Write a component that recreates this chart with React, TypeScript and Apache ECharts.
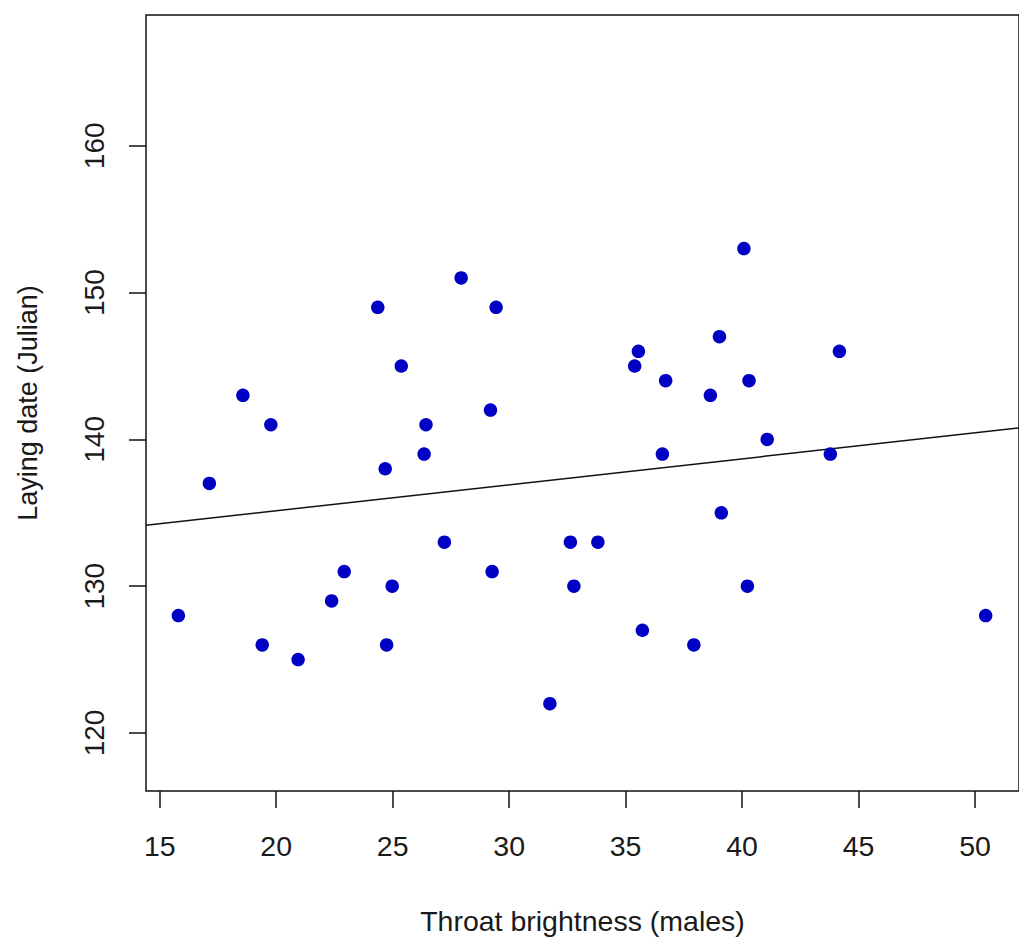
import React, { useEffect, useRef } from "react";
import * as echarts from "echarts";

// Throat brightness (males) vs laying date (Julian)
const throatBrightness = [
  15.8, 17.13, 18.57, 19.4, 19.77, 20.94, 22.38, 22.92, 24.36, 24.68,
  24.74, 24.98, 25.37, 26.35, 26.43, 27.22, 27.94, 29.2, 29.27, 29.44,
  31.75, 32.63, 32.78, 33.81, 35.39, 35.55, 35.72, 36.58, 36.72, 37.93,
  38.64, 39.03, 39.11, 40.08, 40.23, 40.3, 41.08, 43.79, 44.18, 50.46,
];
const layingDate = [
  128, 137, 143, 126, 141, 125, 129, 131, 149, 138,
  126, 130, 145, 139, 141, 133, 151, 142, 131, 149,
  122, 133, 130, 133, 145, 146, 127, 139, 144, 126,
  143, 147, 135, 153, 130, 144, 140, 139, 146, 128,
];

// Fitted line endpoints
const fitX = [14.41, 51.89];
const fitY = [134.15, 140.78];

const xTicks = [15, 20, 25, 30, 35, 40, 45, 50];
const yTicks = [120, 130, 140, 150, 160];

const xTitle = "Throat brightness (males)";
const yTitle = "Laying date (Julian)";

export default function App() {
  const ref = useRef<HTMLDivElement>(null);
  useEffect(() => {
    if (!ref.current) return;
    const chart = echarts.init(ref.current, null, { renderer: "svg" });
    const font = "'Liberation Sans', Arial, sans-serif";
    const textColor = "#1a1a1a";
    chart.setOption({
      animation: false,
      backgroundColor: "#ffffff",
      grid: {
        left: 146,
        top: 15,
        right: -12,
        bottom: 151,
        show: true,
        borderColor: "#111",
        borderWidth: 1.5,
        backgroundColor: "transparent",
      },
      xAxis: {
        type: "value",
        min: 14.41,
        max: 51.89,
        name: xTitle,
        nameLocation: "middle",
        nameGap: 115,
        nameTextStyle: { fontFamily: font, fontSize: 28.5, color: textColor },
        axisLine: { show: false },
        splitLine: { show: false },
        axisTick: {
          show: true,
          customValues: xTicks,
          length: 17,
          lineStyle: { color: "#111", width: 1.5 },
        },
        axisLabel: {
          customValues: xTicks,
          margin: 40,
          fontFamily: font,
          fontSize: 28.5,
          color: textColor,
        },
      },
      yAxis: {
        type: "value",
        min: 116.05,
        max: 168.91,
        name: yTitle,
        nameLocation: "middle",
        nameGap: 105,
        nameRotate: 90,
        nameTextStyle: { fontFamily: font, fontSize: 27, color: textColor },
        axisLine: { show: false },
        splitLine: { show: false },
        axisTick: {
          show: true,
          customValues: yTicks,
          length: 17,
          lineStyle: { color: "#111", width: 1.5 },
        },
        axisLabel: {
          customValues: yTicks,
          rotate: 90,
          margin: 38,
          fontFamily: font,
          fontSize: 28,
          color: textColor,
        },
      },
      series: [
        {
          type: "line",
          data: fitX.map((x, i) => [x, fitY[i]]),
          showSymbol: false,
          symbol: "none",
          clip: true,
          lineStyle: { color: "#111", width: 1.5 },
          silent: true,
          z: 1,
        },
        {
          type: "scatter",
          data: throatBrightness.map((x, i) => [x, layingDate[i]]),
          symbol: "circle",
          symbolSize: 13.5,
          itemStyle: { color: "#0000c4", opacity: 1 },
          z: 2,
        },
      ],
    });
    return () => chart.dispose();
  }, []);
  return (
    <div
      ref={ref}
      style={{ position: "absolute", left: 0, top: 0, width: 1019, height: 942, background: "#fff" }}
    />
  );
}
